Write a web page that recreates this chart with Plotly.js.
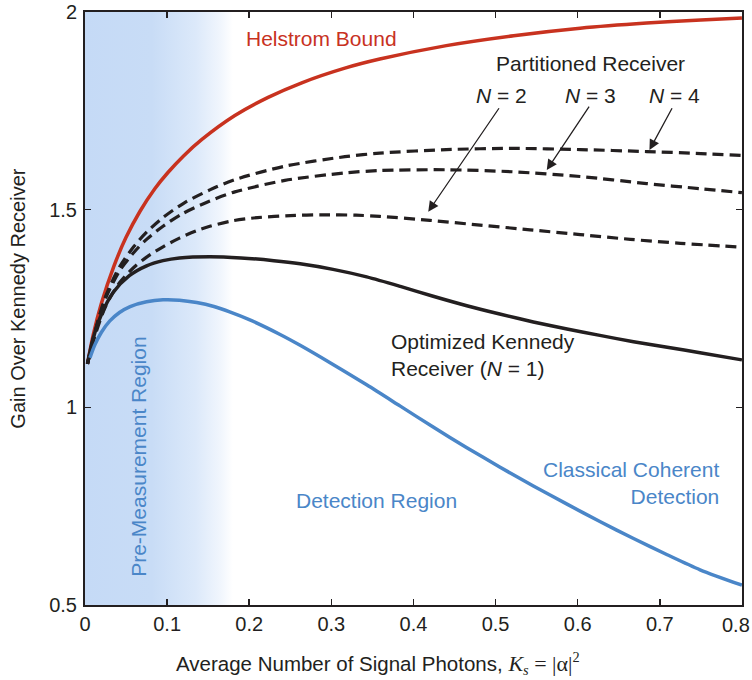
<!DOCTYPE html>
<html>
<head>
<meta charset="utf-8">
<script src="https://cdn.plot.ly/plotly-3.0.1.min.js"></script>
<style>html,body{margin:0;padding:0;background:#fff;}#chart{width:752px;height:680px;}</style>
</head>
<body>
<div id="chart"></div>
<script>
// ---- data ----
var helstromX = [0.003, 0.01, 0.02, 0.035, 0.05, 0.067, 0.085, 0.101, 0.12, 0.142, 0.1825, 0.223, 0.264, 0.3165, 0.359, 0.44, 0.522, 0.603, 0.684, 0.75, 0.8];
var helstromY = [1.11, 1.183, 1.263, 1.356, 1.43, 1.496, 1.553, 1.594, 1.636, 1.677, 1.738, 1.784, 1.821, 1.858, 1.881, 1.915, 1.94, 1.959, 1.972, 1.98, 1.985];

var n4X = [0.003, 0.012, 0.025, 0.042, 0.06, 0.075, 0.095, 0.1215, 0.152, 0.1825, 0.2434, 0.3165, 0.359, 0.44, 0.522, 0.603, 0.684, 0.75, 0.8];
var n4Y = [1.11, 1.19, 1.28, 1.355, 1.408, 1.443, 1.48, 1.518, 1.55, 1.576, 1.61, 1.634, 1.643, 1.652, 1.655, 1.652, 1.647, 1.642, 1.637];

var n3X = [0.003, 0.012, 0.025, 0.042, 0.06, 0.075, 0.095, 0.118, 0.152, 0.1825, 0.2434, 0.3165, 0.359, 0.44, 0.52, 0.603, 0.684, 0.75, 0.8];
var n3Y = [1.11, 1.188, 1.275, 1.345, 1.393, 1.425, 1.458, 1.489, 1.522, 1.545, 1.574, 1.593, 1.599, 1.601, 1.596, 1.584, 1.566, 1.553, 1.543];

var n2X = [0.003, 0.012, 0.025, 0.042, 0.06, 0.075, 0.095, 0.115, 0.135, 0.152, 0.18, 0.21, 0.25, 0.29, 0.33, 0.359, 0.42, 0.481, 0.542, 0.603, 0.664, 0.725, 0.8];
var n2Y = [1.11, 1.18, 1.255, 1.315, 1.355, 1.38, 1.406, 1.428, 1.446, 1.458, 1.472, 1.48, 1.485, 1.487, 1.486, 1.483, 1.473, 1.461, 1.449, 1.437, 1.425, 1.415, 1.405];

var kennedyX = [0.003, 0.01, 0.02, 0.034, 0.054, 0.075, 0.095, 0.115, 0.152, 0.19, 0.23, 0.262, 0.302, 0.343, 0.384, 0.424, 0.465, 0.505, 0.546, 0.587, 0.627, 0.668, 0.709, 0.749, 0.8];
var kennedyY = [1.11, 1.175, 1.235, 1.29, 1.333, 1.358, 1.371, 1.378, 1.381, 1.378, 1.371, 1.363, 1.349, 1.33, 1.306, 1.281, 1.257, 1.236, 1.216, 1.198, 1.182, 1.166, 1.152, 1.138, 1.12];

var classicalX = [0.006, 0.012, 0.02, 0.03, 0.042, 0.055, 0.075, 0.095, 0.115, 0.136, 0.157, 0.177, 0.2, 0.237, 0.262, 0.3, 0.343, 0.384, 0.424, 0.465, 0.505, 0.546, 0.587, 0.627, 0.668, 0.709, 0.749, 0.8];
var classicalY = [1.125, 1.158, 1.19, 1.218, 1.24, 1.255, 1.267, 1.272, 1.271, 1.265, 1.255, 1.241, 1.222, 1.185, 1.157, 1.111, 1.057, 1.003, 0.95, 0.898, 0.849, 0.801, 0.755, 0.711, 0.668, 0.627, 0.589, 0.55];

var regionX = [0, 0.18, 0.18, 0, 0];
var regionY = [0.5, 0.5, 2, 2, 0.5];

var xTicks = [0, 0.1, 0.2, 0.3, 0.4, 0.5, 0.6, 0.7, 0.8];
var xTickText = ['0', '0.1', '0.2', '0.3', '0.4', '0.5', '0.6', '0.7', '0.8'];
var yTicks = [0.5, 1, 1.5, 2];
var yTickText = ['0.5', '1', '1.5', '2'];

// ---- styling ----
var BLACK = '#231f20', RED = '#c8321f', BLUE = '#4a86c8';
var FONT = 'Liberation Sans, Arial, Helvetica, sans-serif';

var traces = [
  {x: regionX, y: regionY, type: 'scatter', mode: 'none', fill: 'toself', hoverinfo: 'skip', showlegend: false,
   fillgradient: {type: 'horizontal', start: 0, stop: 0.18,
     colorscale: [[0, '#c5daf6'], [0.45, '#c8dcf6'], [0.75, '#dce9fa'], [0.92, '#f1f6fd'], [1, '#ffffff']]}},
  {x: helstromX, y: helstromY, type: 'scatter', mode: 'lines', line: {color: RED, width: 3.5, shape: 'spline', smoothing: 0.8}, showlegend: false},
  {x: n4X, y: n4Y, type: 'scatter', mode: 'lines', line: {color: BLACK, width: 3.2, dash: '11px,6px', shape: 'spline', smoothing: 0.8}, showlegend: false},
  {x: n3X, y: n3Y, type: 'scatter', mode: 'lines', line: {color: BLACK, width: 3.2, dash: '11px,6px', shape: 'spline', smoothing: 0.8}, showlegend: false},
  {x: n2X, y: n2Y, type: 'scatter', mode: 'lines', line: {color: BLACK, width: 3.2, dash: '11px,6px', shape: 'spline', smoothing: 0.8}, showlegend: false},
  {x: kennedyX, y: kennedyY, type: 'scatter', mode: 'lines', line: {color: BLACK, width: 3.5, shape: 'spline', smoothing: 0.8}, showlegend: false},
  {x: classicalX, y: classicalY, type: 'scatter', mode: 'lines', line: {color: BLUE, width: 3.5, shape: 'spline', smoothing: 0.8}, showlegend: false}
];

function txt(text, x, y, color, opts) {
  var a = {text: text, x: x, y: y, xref: 'x', yref: 'y', showarrow: false,
           font: {family: FONT, size: 21, color: color}, xanchor: 'center', yanchor: 'middle'};
  for (var k in opts) a[k] = opts[k];
  return a;
}
function arrow(hx, hy, tx, ty) {
  return {text: '', x: hx, y: hy, ax: tx, ay: ty, xref: 'x', yref: 'y', axref: 'x', ayref: 'y',
          showarrow: true, arrowhead: 2, arrowsize: 1.6, arrowwidth: 1.3, arrowcolor: BLACK, standoff: 0, startstandoff: 0};
}

// last x tick label sits at the page edge: draw it as a right-anchored label so it stays inside
var shownXTickText = xTickText.slice(0, xTickText.length - 1).concat(['']);

var serif = "font-family:'Liberation Serif','Times New Roman',serif;";
var annotations = [
  txt('Helstrom Bound', 0.2885, 1.934, RED),
  txt('Partitioned Receiver', 0.615, 1.87, BLACK),
  txt('<i>N</i> = 2', 0.5075, 1.789, BLACK),
  txt('<i>N</i> = 3', 0.616, 1.789, BLACK),
  txt('<i>N</i> = 4', 0.7175, 1.789, BLACK),
  arrow(0.418, 1.4948, 0.5054, 1.7604),
  arrow(0.5623, 1.6003, 0.6151, 1.7647),
  arrow(0.6874, 1.6509, 0.7159, 1.7604),
  txt('Optimized Kennedy<br>Receiver (<i>N</i> = 1)', 0.370, 1.1323, BLACK, {xanchor: 'left', align: 'left'}),
  txt('Classical Coherent<br>Detection', 0.7744, 0.8077, BLUE, {xanchor: 'right', align: 'right'}),
  txt('Detection Region', 0.3555, 0.7637, BLUE),
  txt('Pre-Measurement Region', 0.0643, 0.8743, BLUE, {textangle: -90}),
  {text: xTickText[xTickText.length - 1], xref: 'x', yref: 'paper', x: xTicks[xTicks.length - 1], y: -0.033,
   xshift: 10, showarrow: false, xanchor: 'right', yanchor: 'middle', font: {family: FONT, size: 20, color: BLACK}},
  {text: 'Gain Over Kennedy Receiver', xref: 'paper', yref: 'paper', x: -0.1025, y: 0.516, textangle: -90,
   showarrow: false, xanchor: 'center', yanchor: 'middle', font: {family: FONT, size: 20, color: BLACK}},
  {text: 'Average Number of Signal Photons, <span style="' + serif + 'font-style:italic;font-size:22px">K</span><sub><span style="' + serif + 'font-style:italic">s</span></sub><span style="' + serif + 'font-size:22px"> = |α|</span><sup><span style="' + serif + '">2</span></sup>',
   xref: 'paper', yref: 'paper', x: 0.446, y: -0.098, showarrow: false, xanchor: 'center', yanchor: 'middle',
   font: {family: FONT, size: 20.5, color: BLACK}}
];

var axisCommon = {showline: true, linewidth: 2, linecolor: BLACK, mirror: 'ticks', ticks: 'inside', ticklen: 6,
  tickwidth: 1.5, tickcolor: BLACK, showgrid: false, zeroline: false, fixedrange: true, ticklabeloverflow: 'allow',
  tickfont: {family: FONT, size: 20, color: BLACK}};

var layout = {
  width: 752, height: 680,
  margin: {l: 85, r: 10, t: 12, b: 75},
  paper_bgcolor: '#ffffff', plot_bgcolor: '#ffffff',
  showlegend: false,
  xaxis: Object.assign({}, axisCommon, {range: [0, 0.8001], tickmode: 'array', tickvals: xTicks, ticktext: shownXTickText}),
  yaxis: Object.assign({}, axisCommon, {range: [0.4999, 2.0001], tickmode: 'array', tickvals: yTicks, ticktext: yTickText, ticklabelstandoff: 2}),
  annotations: annotations
};

Plotly.newPlot('chart', traces, layout, {staticPlot: true, displayModeBar: false});
</script>
</body>
</html>
